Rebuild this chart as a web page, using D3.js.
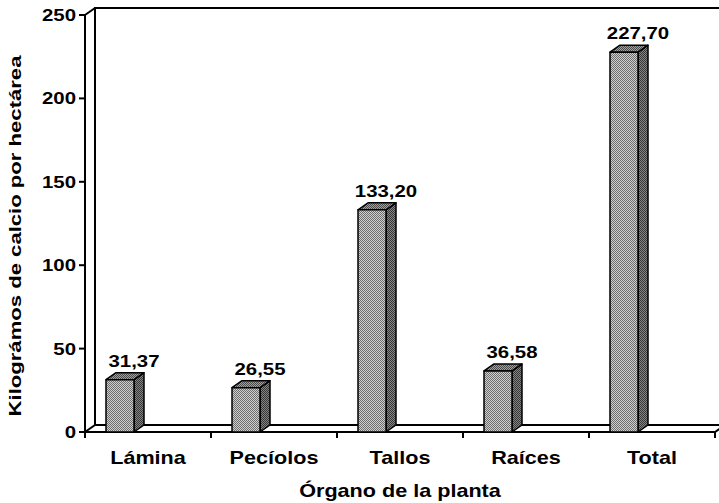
<!DOCTYPE html>
<html>
<head>
<meta charset="utf-8">
<script src="https://cdn.jsdelivr.net/npm/d3@7"></script>
<style>
  body { margin: 0; background: #fff; }
  text { font-family: Arial, "Liberation Sans", sans-serif; font-weight: bold; fill: #000; }
</style>
</head>
<body>
<svg id="chart" width="719" height="503"></svg>
<script>
// Calcium content per plant organ (kg/ha)
const categories = ["Lámina", "Pecíolos", "Tallos", "Raíces", "Total"];
const values = [31.37, 26.55, 133.20, 36.58, 227.70];
const valueLabels = ["31,37", "26,55", "133,20", "36,58", "227,70"];
const yTicks = [0, 50, 100, 150, 200, 250];
const yTitle = "Kilográmos de calcio por hectárea";
const xTitle = "Órgano de la planta";

const svg = d3.select("#chart");

// front plane of the 3-D plot box and its oblique depth offset
const plotLeft = 85, plotRight = 715, plotBottom = 432, plotTop = 15;
const dx = 10, dy = -7;
const stretch = 1.2;   // wide lettering

const x = d3.scaleBand().domain(categories).range([plotLeft, plotRight]);
const y = d3.scaleLinear().domain([0, 250]).range([plotBottom, plotTop]);
const bw = x.bandwidth();
const barOff = bw * 21 / 126, barW = bw * 28 / 126;

function label(g, px, py, str, size, anchor) {
  return g.append("text")
    .attr("transform", `translate(${px},${py}) scale(${stretch},1)`)
    .attr("text-anchor", anchor || "middle")
    .attr("font-size", size).text(str);
}

// dithered fills for the three visible faces of each column
const defs = svg.append("defs");
function checker(id, light, dark) {
  const p = defs.append("pattern").attr("id", id)
    .attr("patternUnits", "userSpaceOnUse").attr("width", 2).attr("height", 2);
  p.append("rect").attr("width", 2).attr("height", 2).attr("fill", light);
  p.append("rect").attr("width", 1).attr("height", 1).attr("fill", dark);
  p.append("rect").attr("x", 1).attr("y", 1).attr("width", 1).attr("height", 1).attr("fill", dark);
}
checker("front", "#cfcfcf", "#6e6e6e");
checker("topf", "#a0a0a0", "#4a4a4a");
checker("side", "#858585", "#363636");

const line = svg.append("g").attr("fill", "none").attr("stroke", "#000").attr("stroke-width", 2);

// back wall, side wall and floor
const yMax = y(250), y0 = y(0);
line.append("path").attr("d",
  `M${plotRight + dx + 20},${yMax + dy}H${plotLeft + dx}V${y0 + dy}H${plotRight + dx}`);
line.append("path").attr("d", `M${plotLeft},${yMax}L${plotLeft + dx},${yMax + dy}`);
line.append("path").attr("d", `M${plotLeft},${y0}L${plotLeft + dx},${y0 + dy}`);
line.append("path").attr("d", `M${plotLeft},${y0}H${plotRight}L${plotRight + dx},${y0 + dy}`);

// columns
const bars = svg.append("g").attr("stroke", "#000").attr("stroke-width", 1.5)
  .attr("stroke-linejoin", "round");
const labels = svg.append("g");
categories.forEach((c, i) => {
  const x0 = x(c) + barOff, x1 = x0 + barW;
  const yt = y(values[i]);
  bars.append("path").attr("fill", "url(#side)")
    .attr("d", `M${x1},${yt}L${x1 + dx},${yt + dy}V${y0 + dy}L${x1},${y0}Z`);
  bars.append("path").attr("fill", "url(#topf)")
    .attr("d", `M${x0},${yt}L${x0 + dx},${yt + dy}H${x1 + dx}L${x1},${yt}Z`);
  bars.append("rect").attr("fill", "url(#front)")
    .attr("x", x0).attr("y", yt).attr("width", barW).attr("height", y0 - yt);
  label(labels, (x0 + x1) / 2 + 14, yt + dy - 6, valueLabels[i], 17);
});

// value axis
const yAxis = svg.append("g");
yAxis.append("path").attr("d", `M${plotLeft},${yMax}V${y0}`)
  .attr("stroke", "#000").attr("stroke-width", 2);
yTicks.forEach(t => {
  yAxis.append("path").attr("d", `M${plotLeft - 6},${y(t)}H${plotLeft}`)
    .attr("stroke", "#000").attr("stroke-width", 2);
  label(yAxis, plotLeft - 9, y(t) + 6, t, 17, "end");
});

// category axis
const xAxis = svg.append("g");
const bounds = categories.map(c => x(c)).concat([plotRight]);
bounds.forEach(b => {
  xAxis.append("path").attr("d", `M${b},${y0}V${y0 + 6}`)
    .attr("stroke", "#000").attr("stroke-width", 2);
});
categories.forEach(c => label(xAxis, x(c) + bw / 2, 464, c, 18));

// axis titles
label(svg, (plotLeft + plotRight) / 2, 497, xTitle, 18);
svg.append("text")
  .attr("transform", `translate(21,236) rotate(-90) scale(1.3,1)`)
  .attr("text-anchor", "middle").attr("font-size", 17).text(yTitle);
</script>
</body>
</html>
